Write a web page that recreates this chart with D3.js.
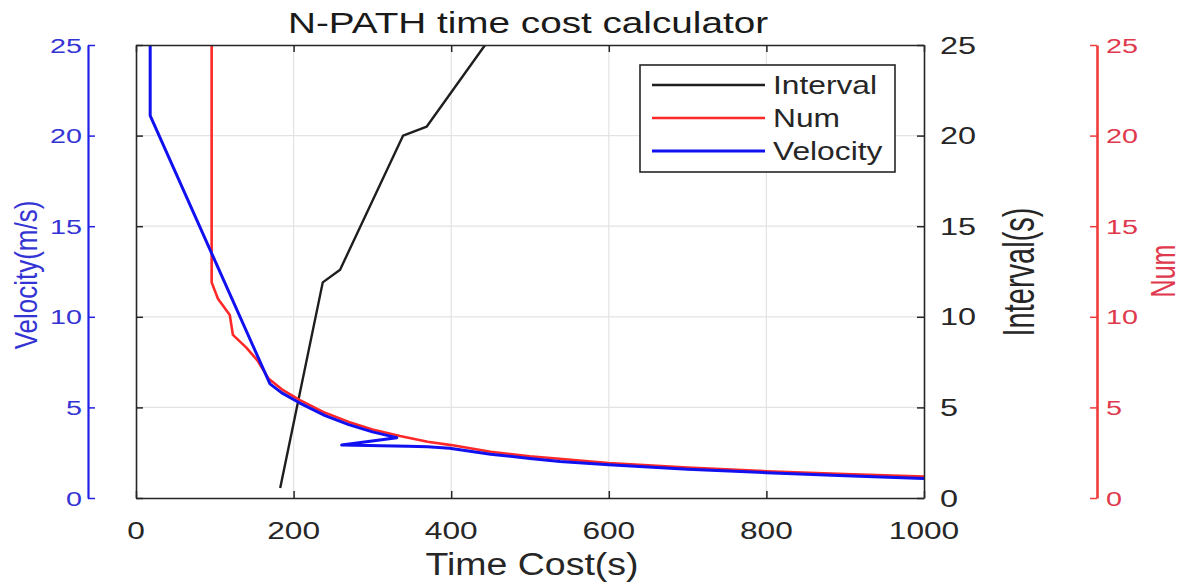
<!DOCTYPE html>
<html>
<head>
<meta charset="utf-8">
<script src="https://cdn.jsdelivr.net/npm/d3@7"></script>
<style>
  body { margin: 0; background: #fff; }
  svg { display: block; font-family: "Liberation Sans", Arial, sans-serif; }
</style>
</head>
<body>
<svg id="chart" width="1189" height="584"></svg>
<script>
// ---- data ----
const timeTicks = [0, 200, 400, 600, 800, 1000];
const valueTicks = [0, 5, 10, 15, 20, 25];

const intervalTime  = [183, 237, 259, 339, 369, 443];
const intervalValue = [0.55, 11.9, 12.6, 20.0, 20.5, 25];

const numTime  = [96, 96, 104, 119, 123, 140, 154, 168, 185, 208, 240, 270, 300, 335, 370, 400, 450, 500, 600, 700, 800, 900, 1000];
const numValue = [25, 11.9, 11.0, 10.1, 9.0, 8.3, 7.6, 6.6, 6.0, 5.4, 4.7, 4.2, 3.78, 3.42, 3.1, 2.92, 2.55, 2.3, 1.93, 1.68, 1.48, 1.32, 1.18];

const velocityTime  = [18, 18, 170, 185, 208, 240, 270, 300, 331, 261, 345, 370, 398, 450, 500, 538, 600, 700, 800, 900, 1000];
const velocityValue = [25, 21.1, 6.3, 5.8, 5.24, 4.55, 4.05, 3.65, 3.33, 2.92, 2.86, 2.83, 2.74, 2.42, 2.18, 2.02, 1.83, 1.58, 1.40, 1.23, 1.08];

const seriesNames  = ["Interval", "Num", "Velocity"];
const seriesColors = ["#1e1e1e", "#ff2828", "#1010f0"];
const seriesWidths = [2.4, 2.6, 3];

const titleText = "N-PATH time cost calculator";
const xLabelText = "Time Cost(s)";
const velocityLabel = "Velocity(m/s)";
const intervalLabel = "Interval(s)";
const numLabel = "Num";

// ---- layout ----
const svg = d3.select("#chart");
const plot = { left: 136, right: 924, top: 45, bottom: 498 };
const axisInk = "#262626";
const blueInk = "#3434d4";
const redInk = "#e0384c";

const x = d3.scaleLinear().domain([0, 1000]).range([plot.left, plot.right]);
const yVel = d3.scaleLinear().domain([0, 25]).range([plot.bottom, plot.top]);
const yInt = yVel.copy();
const yNum = yVel.copy();

// horizontally widened text (the figure's glyphs are wide)
function wideText(g, px, py, str, size, sx, anchor, fill) {
  return g.append("text")
    .attr("transform", `translate(${px},${py}) scale(${sx},1)`)
    .attr("text-anchor", anchor)
    .attr("font-size", size)
    .attr("fill", fill)
    .text(str);
}
function verticalText(g, px, py, str, size, sy, fill) {
  return g.append("text")
    .attr("transform", `translate(${px},${py}) rotate(-90) scale(1,${sy})`)
    .attr("text-anchor", "middle")
    .attr("font-size", size)
    .attr("fill", fill)
    .text(str);
}

// ---- grid ----
const grid = svg.append("g");
grid.selectAll("line.gx").data(timeTicks.slice(1, -1)).join("line")
  .attr("x1", d => x(d)).attr("x2", d => x(d))
  .attr("y1", plot.top).attr("y2", plot.bottom)
  .attr("stroke", "#e3e3e3").attr("stroke-width", 1.2);
grid.selectAll("line.gy").data(valueTicks.slice(1, -1)).join("line")
  .attr("y1", d => yVel(d)).attr("y2", d => yVel(d))
  .attr("x1", plot.left).attr("x2", plot.right)
  .attr("stroke", "#e3e3e3").attr("stroke-width", 1.2);

// ---- lines ----
const lineGen = (xs, ys, yScale) => d3.line()
  .x((d, i) => x(xs[i])).y((d, i) => yScale(ys[i]))(xs);

const seriesData = [
  [intervalTime, intervalValue, yInt],
  [numTime, numValue, yNum],
  [velocityTime, velocityValue, yVel]
];
svg.append("clipPath").attr("id", "clip").append("rect")
  .attr("x", plot.left).attr("y", plot.top)
  .attr("width", plot.right - plot.left).attr("height", plot.bottom - plot.top);
const lines = svg.append("g").attr("clip-path", "url(#clip)");
seriesData.forEach(([xs, ys, sc], i) => {
  lines.append("path")
    .attr("d", lineGen(xs, ys, sc))
    .attr("fill", "none")
    .attr("stroke", seriesColors[i])
    .attr("stroke-width", seriesWidths[i])
    .attr("stroke-linejoin", "round");
});

// ---- axes of the main box ----
function styleAxis(g, color, width) {
  g.selectAll("path.domain").attr("stroke", color).attr("stroke-width", width);
  g.selectAll(".tick line").attr("stroke", color).attr("stroke-width", 1.5);
  g.selectAll(".tick text").remove();
}
svg.append("g").attr("transform", `translate(0,${plot.bottom})`)
  .call(d3.axisBottom(x).tickValues(timeTicks).tickSize(-7).tickSizeOuter(0).tickFormat(""))
  .call(g => styleAxis(g, axisInk, 1.6));
svg.append("g").attr("transform", `translate(0,${plot.top})`)
  .call(d3.axisTop(x).tickValues(timeTicks).tickSize(-7).tickSizeOuter(0).tickFormat(""))
  .call(g => styleAxis(g, axisInk, 1.6));
svg.append("g").attr("transform", `translate(${plot.left},0)`)
  .call(d3.axisLeft(yVel).tickValues(valueTicks).tickSize(-7).tickSizeOuter(0).tickFormat(""))
  .call(g => styleAxis(g, axisInk, 1.6));
svg.append("g").attr("transform", `translate(${plot.right},0)`)
  .call(d3.axisRight(yInt).tickValues(valueTicks).tickSize(-7).tickSizeOuter(0).tickFormat(""))
  .call(g => styleAxis(g, axisInk, 1.6));

// ---- offset velocity axis (left, blue) and Num axis (far right, red) ----
svg.append("g").attr("transform", "translate(88,0)")
  .call(d3.axisLeft(yVel).tickValues(valueTicks).tickSize(-7).tickSizeOuter(0).tickFormat(""))
  .call(g => styleAxis(g, "#2222e6", 2.2));
svg.append("g").attr("transform", "translate(1097,0)")
  .call(d3.axisRight(yNum).tickValues(valueTicks).tickSize(-7).tickSizeOuter(0).tickFormat(""))
  .call(g => styleAxis(g, "#f03c3c", 2.6));

// ---- tick labels ----
const labels = svg.append("g");
timeTicks.forEach(t => wideText(labels, x(t), 539, d3.format("d")(t), 24, 1.32, "middle", axisInk));
valueTicks.forEach(v => wideText(labels, 940, yInt(v) + 8.5, String(v), 24, 1.35, "start", axisInk));
valueTicks.forEach(v => wideText(labels, 82, yVel(v) + 7.5, String(v), 21, 1.37, "end", blueInk));
valueTicks.forEach(v => wideText(labels, 1106, yNum(v) + 7.5, String(v), 21, 1.37, "start", redInk));

// ---- titles ----
wideText(labels, 528, 33, titleText, 30, 1.29, "middle", "#1a1a1a");
wideText(labels, 532, 575, xLabelText, 31, 1.21, "middle", axisInk);
verticalText(labels, 37, 275, velocityLabel, 26, 1.2, blueInk);
verticalText(labels, 1034, 272, intervalLabel, 29, 1.5, axisInk);
verticalText(labels, 1175, 271, numLabel, 25, 1.4, redInk);

// ---- legend ----
const legend = svg.append("g");
legend.append("rect")
  .attr("x", 640).attr("y", 65).attr("width", 255).attr("height", 107)
  .attr("fill", "#fff").attr("stroke", axisInk).attr("stroke-width", 1.6);
const rowY = d3.scalePoint().domain(seriesNames).range([85, 151]);
seriesNames.forEach((name, i) => {
  legend.append("line")
    .attr("x1", 652).attr("x2", 765)
    .attr("y1", rowY(name)).attr("y2", rowY(name))
    .attr("stroke", seriesColors[i]).attr("stroke-width", seriesWidths[i]);
  wideText(legend, 773, rowY(name) + 9, name, 25, 1.27, "start", axisInk);
});
</script>
</body>
</html>
